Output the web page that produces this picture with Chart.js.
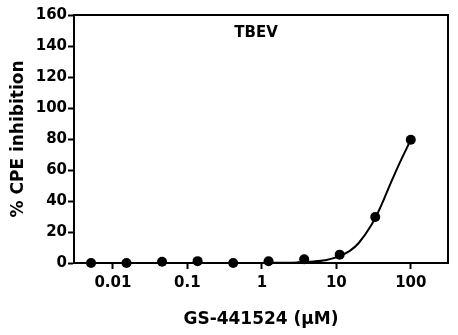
<!DOCTYPE html>
<html>
<head>
<meta charset="utf-8">
<script src="https://cdn.jsdelivr.net/npm/chart.js@4/dist/chart.umd.min.js"></script>
<style>
  html, body { margin: 0; padding: 0; background: #fff; }
  #wrap { width: 458px; height: 335px; position: relative; }
</style>
</head>
<body>
<div id="wrap"><canvas id="chartTbev"></canvas></div>
<script>
// Datos
const conc = [0.00508, 0.0152, 0.0457, 0.137, 0.412, 1.23, 3.70, 11.1, 33.3, 100];
const inhibition = [0, 0, 0.8, 1.2, 0, 1.1, 2.4, 5.4, 29.7, 79.5];
const curveConc = [1.2, 2, 3, 5, 7, 10, 15, 20, 30, 40, 50, 70, 100];
const curveVal = [0.1, 0.2, 0.4, 1, 1.8, 3.6, 7.7, 12.9, 25, 37, 48, 64, 79.5];
const xTicks = [0.01, 0.1, 1, 10, 100];
const yTicks = [0, 20, 40, 60, 80, 100, 120, 140, 160];

const FONT = 'DejaVu Sans';

// Marco + título interno
const boxPlugin = {
    id: 'box',
    beforeDatasetsDraw(chart) {
        const { ctx, chartArea: a } = chart;
        ctx.save();
        ctx.strokeStyle = '#000'; ctx.lineWidth = 2;
        ctx.strokeRect(a.left, a.top, a.right - a.left, a.bottom - a.top);
        ctx.fillStyle = '#000'; ctx.font = 'bold 15px "' + FONT + '"';
        ctx.textAlign = 'center'; ctx.textBaseline = 'middle';
        ctx.fillText('TBEV', (a.left + a.right) / 2 - 5, a.top + 18);
        ctx.restore();
    }
};

new Chart(document.getElementById('chartTbev'), {
    type: 'scatter',
    data: {
        datasets: [
            { label: 'fit', data: curveConc.map((x, i) => ({ x: x, y: curveVal[i] })), showLine: true, borderColor: '#000', borderWidth: 2, pointRadius: 0, tension: 0.4, clip: false },
            { label: 'TBEV', data: conc.map((x, i) => ({ x: x, y: inhibition[i] })), pointRadius: 5, pointBackgroundColor: '#000', pointBorderColor: '#000', pointBorderWidth: 0, showLine: false, clip: false }
        ]
    },
    options: {
        responsive: true, maintainAspectRatio: false, animation: false,
        layout: { padding: { left: 0, right: 10, top: 15, bottom: 0 } },
        plugins: { legend: { display: false }, tooltip: { enabled: false } },
        scales: {
            x: {
                type: 'logarithmic', min: 0.003, max: 316,
                afterBuildTicks: s => { s.ticks = xTicks.map(v => ({ value: v })); },
                afterFit: s => { s.height = 72; },
                grid: { drawOnChartArea: false, drawTicks: true, tickLength: 6, tickWidth: 2, tickColor: '#000' },
                border: { display: true, width: 2, color: '#000' },
                ticks: { color: '#000', padding: 5, font: { family: FONT, size: 15, weight: 'bold' }, callback: v => String(v), maxRotation: 0, autoSkip: false },
                title: { display: true, text: 'GS-441524 (\u03bcM)', color: '#000', font: { family: FONT, size: 17, weight: 'bold' }, padding: { top: 0, bottom: 5 } }
            },
            y: {
                min: 0, max: 160,
                afterBuildTicks: s => { s.ticks = yTicks.map(v => ({ value: v })); },
                afterFit: s => { s.width = 74; },
                grid: { drawOnChartArea: false, drawTicks: true, tickLength: 6, tickWidth: 2, tickColor: '#000' },
                border: { display: true, width: 2, color: '#000' },
                ticks: { color: '#000', padding: 1, font: { family: FONT, size: 15, weight: 'bold' } },
                title: { display: true, text: '% CPE inhibition', color: '#000', font: { family: FONT, size: 17, weight: 'bold' }, padding: { top: 8, bottom: 0 } }
            }
        }
    },
    plugins: [boxPlugin]
});
</script>
</body>
</html>
